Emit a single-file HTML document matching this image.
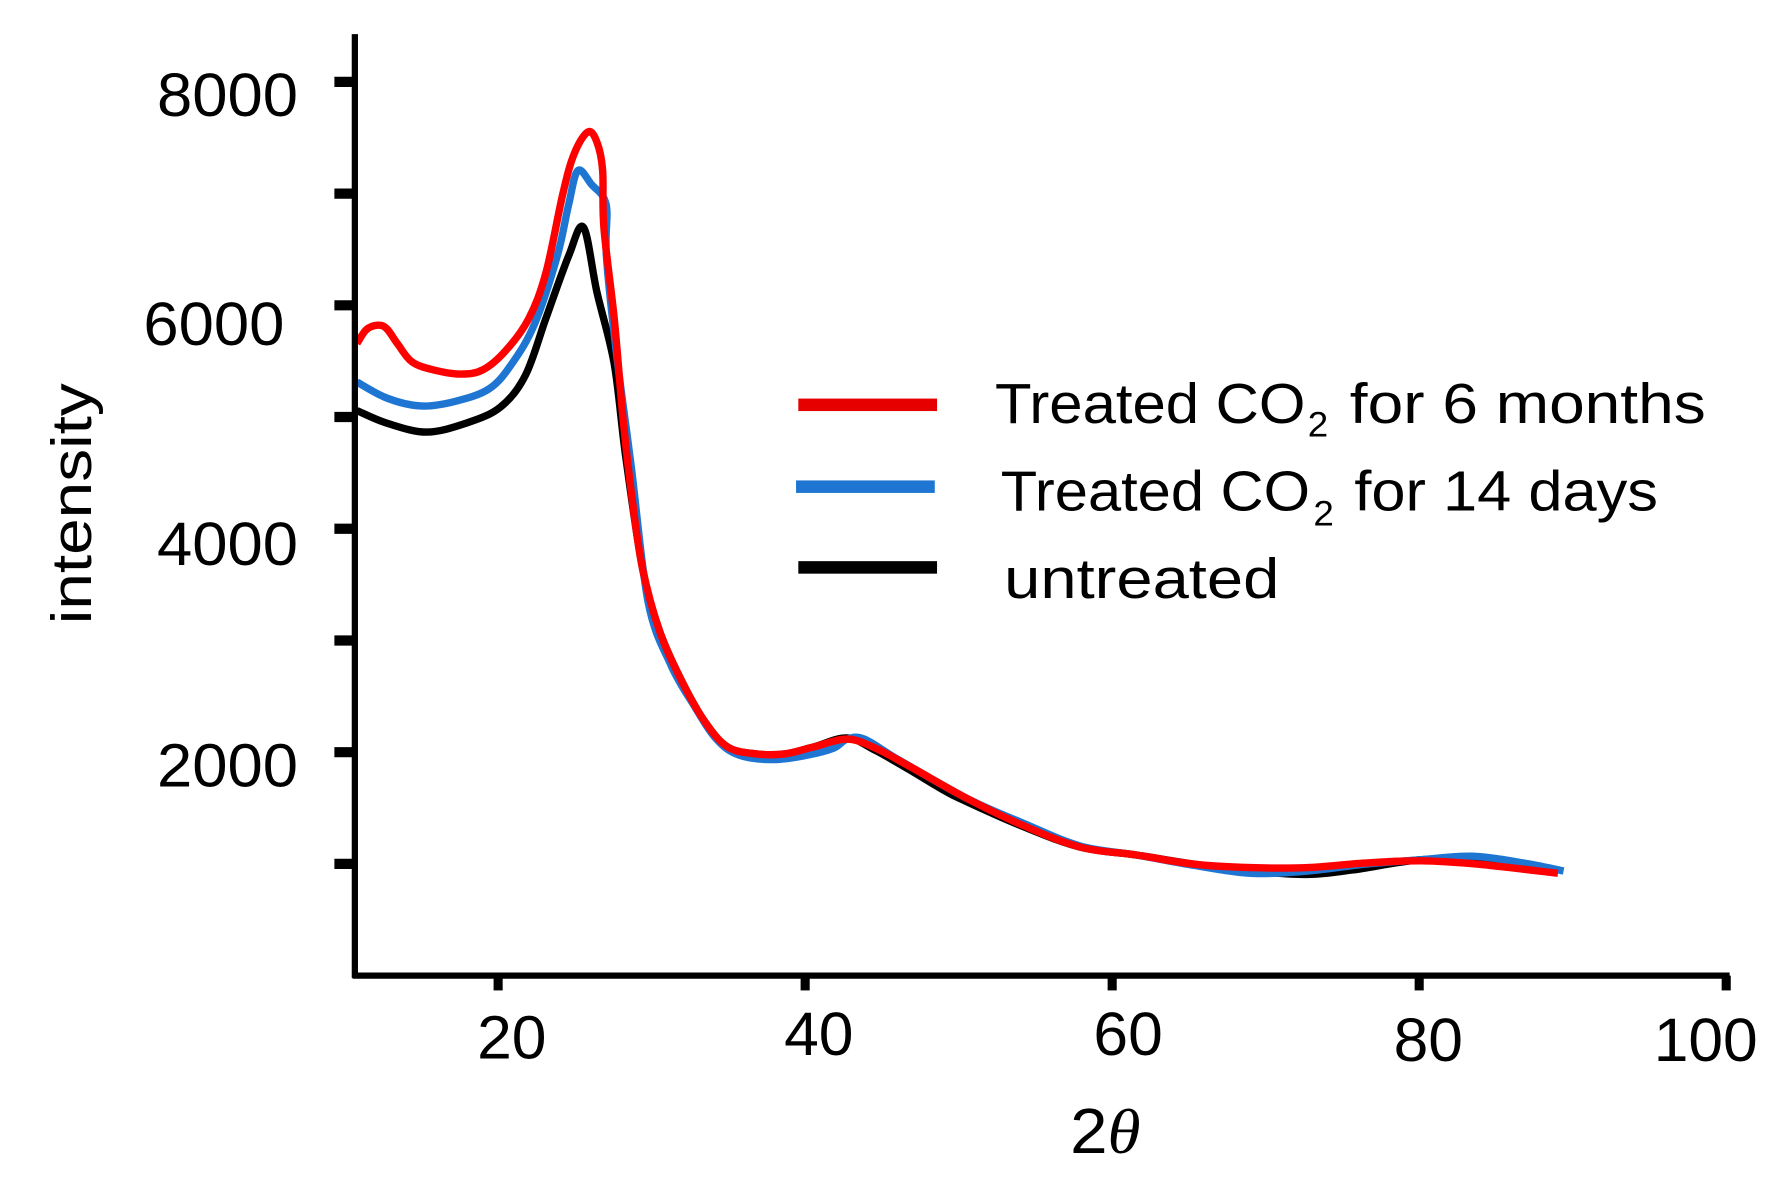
<!DOCTYPE html>
<html>
<head>
<meta charset="utf-8">
<title>Intensity vs 2θ</title>
<style>
html,body{margin:0;padding:0;background:#fff;}
svg{display:block;}
text{font-family:"Liberation Sans",sans-serif;fill:#000;}
</style>
</head>
<body>
<svg id="chart" xmlns="http://www.w3.org/2000/svg" width="1782" height="1186" viewBox="0 0 1567 1043">
  <rect x="0" y="0" width="1567" height="1043" fill="#fff"/>
  <g id="marks"></g>
  <g id="axes"></g>

  <text transform="translate(80,549) rotate(-90)" font-size="50" textLength="212" lengthAdjust="spacingAndGlyphs">intensity</text>
  <text x="941" y="1014" font-size="56" textLength="62" lengthAdjust="spacingAndGlyphs">2<tspan font-family="Liberation Serif" font-style="italic">θ</tspan></text>

  <g>
    <g>
      <rect x="702" y="350.5" width="122" height="11" fill="#e60000"/>
      <text x="875" y="372" font-size="50" textLength="273" lengthAdjust="spacingAndGlyphs">Treated CO</text>
      <text x="1150" y="384" font-size="31" textLength="18" lengthAdjust="spacingAndGlyphs">2</text>
      <text x="1187" y="372" font-size="50" textLength="313" lengthAdjust="spacingAndGlyphs">for 6 months</text>
    </g>
    <g>
      <rect x="700" y="422.5" width="122" height="11" fill="#1e76d2"/>
      <text x="880" y="449" font-size="50" textLength="272" lengthAdjust="spacingAndGlyphs">Treated CO</text>
      <text x="1155" y="462" font-size="31" textLength="18" lengthAdjust="spacingAndGlyphs">2</text>
      <text x="1191" y="449" font-size="50" textLength="267" lengthAdjust="spacingAndGlyphs">for 14 days</text>
    </g>
    <g>
      <rect x="702" y="493.5" width="122" height="11" fill="#000"/>
      <text x="883" y="526" font-size="50" textLength="242" lengthAdjust="spacingAndGlyphs">untreated</text>
    </g>
  </g>
</svg>

<script>
const xTicks = [20, 40, 60, 80, 100];
const yTicks = [1000, 2000, 3000, 4000, 5000, 6000, 7000, 8000];
const yTickLabels = [2000, 4000, 6000, 8000];

const untreatedX = [10.81,12.74,15.33,17.93,20.15,21.78,23.11,24.59,25.56,26.44,27.56,28.30,29.41,30.52,32.0,33.48,34.96,36.81,38.67,40.52,42.74,44.59,46.81,49.04,50.52,54.22,57.93,61.63,65.33,69.04,72.74,75.7,80.15,83.85,89.04];
const untreatedY = [5058,4946,4865,4946,5089,5374,5883,6442,6697,6117,5476,4661,3644,3084,2626,2270,2046,1985,1985,2046,2127,2015,1842,1659,1557,1333,1150,1079,997,936,906,947,1038,1018,936];

const days14X = [10.81,12.74,14.96,17.19,19.41,20.89,22.37,23.85,24.59,25.19,26.07,27.04,27.05,27.70,28.67,29.78,31.26,32.74,34.22,35.70,37.93,40.15,41.85,42.74,43.85,46.07,50.52,54.22,57.93,61.63,65.33,69.04,72.74,76.44,80.15,83.48,86.81,89.41];
const days14Y = [5313,5170,5099,5140,5252,5476,5832,6442,6901,7206,7084,6901,6442,5578,4560,3338,2779,2422,2117,1974,1934,1974,2036,2117,2117,1934,1588,1364,1160,1079,987,916,936,997,1038,1069,1008,936];

const months6X = [10.81,11.41,12.15,12.74,13.48,14.37,15.70,17.56,19.04,20.52,22.0,23.11,24.22,24.96,25.85,26.44,26.81,26.89,27.56,28.15,28.74,29.41,30.52,32.0,33.48,34.96,36.81,38.67,40.52,42.74,44.59,46.81,50.52,54.22,57.93,61.63,65.33,69.04,72.74,76.44,80.15,83.85,89.04];
const months6Y = [5659,5781,5822,5791,5649,5496,5425,5384,5425,5598,5883,6290,7002,7359,7552,7460,7206,6697,5883,4967,4254,3644,3084,2626,2270,2046,1985,1985,2046,2117,2036,1873,1588,1343,1150,1079,997,967,967,1008,1028,997,916];

const SVG_NS = 'http://www.w3.org/2000/svg';
const marks = document.getElementById('marks');
const axes = document.getElementById('axes');

function xScale(v) { return 438 + (v - 20) * 13.5; }
function yScale(v) { return 858 - v * 0.09825; }

const AXIS_LEFT = 312, AXIS_BOTTOM = 858, AXIS_RIGHT = 1521, AXIS_TOP = 30;

function smoothPath(xs, ys) {
  const p = xs.map(function (x, i) { return [xScale(x), yScale(ys[i])]; });
  let d = 'M' + p[0][0].toFixed(1) + ' ' + p[0][1].toFixed(1);
  for (let i = 0; i < p.length - 1; i++) {
    const a = p[Math.max(i - 1, 0)], b = p[i], c = p[i + 1], e = p[Math.min(i + 2, p.length - 1)];
    const c1x = b[0] + (c[0] - a[0]) / 6, c1y = b[1] + (c[1] - a[1]) / 6;
    const c2x = c[0] - (e[0] - b[0]) / 6, c2y = c[1] - (e[1] - b[1]) / 6;
    d += 'C' + c1x.toFixed(1) + ' ' + c1y.toFixed(1) + ' ' + c2x.toFixed(1) + ' ' + c2y.toFixed(1) + ' ' + c[0].toFixed(1) + ' ' + c[1].toFixed(1);
  }
  return d;
}

function make(tag, attrs, parent) {
  const el = document.createElementNS(SVG_NS, tag);
  Object.keys(attrs).forEach(function (k) { el.setAttribute(k, attrs[k]); });
  parent.appendChild(el);
  return el;
}

const untreatedLine = make('path', { d: smoothPath(untreatedX, untreatedY), fill: 'none', stroke: '#000', 'stroke-width': 6.5, 'stroke-linejoin': 'round' }, marks);



const days14Line = make('path', { d: smoothPath(days14X, days14Y), fill: 'none', stroke: '#1e76d2', 'stroke-width': 6.5, 'stroke-linejoin': 'round' }, marks);



const months6Line = make('path', { d: smoothPath(months6X, months6Y), fill: 'none', stroke: '#f00', 'stroke-width': 6.5, 'stroke-linejoin': 'round' }, marks);



const yAxisLine = make('line', { x1: AXIS_LEFT, x2: AXIS_LEFT, y1: AXIS_TOP, y2: AXIS_BOTTOM + 2, stroke: '#000', 'stroke-width': 5.5 }, axes);



const xAxisLine = make('line', { x1: AXIS_LEFT - 2, x2: AXIS_RIGHT, y1: AXIS_BOTTOM, y2: AXIS_BOTTOM, stroke: '#000', 'stroke-width': 5.5 }, axes);



yTicks.forEach(function (v) {
  const t = make('line', { x1: AXIS_LEFT - 18, x2: AXIS_LEFT, y1: yScale(v), y2: yScale(v), stroke: '#000', 'stroke-width': 9 }, axes);
  
  
});

xTicks.forEach(function (v) {
  const t = make('line', { x1: xScale(v), x2: xScale(v), y1: AXIS_BOTTOM, y2: AXIS_BOTTOM + 13, stroke: '#000', 'stroke-width': 8 }, axes);
  
  
});

const yLabelNudge = { 2000: [0, 30], 4000: [0, 32], 6000: [-12, 35], 8000: [0, 30] };
yTickLabels.forEach(function (v) {
  const n = yLabelNudge[v] || [0, 30];
  const t = make('text', { x: 262 + n[0], y: yScale(v) + n[1], 'font-size': 54, 'text-anchor': 'end', textLength: 124, lengthAdjust: 'spacingAndGlyphs' }, axes);
  
  
  t.textContent = String(v);
});

const xLabelNudge = { 20: [12, 73], 40: [12, 70], 60: [14, 70], 80: [8, 75], 100: [-18, 75] };
xTicks.forEach(function (v) {
  const n = xLabelNudge[v] || [0, 72];
  const w = String(v).length * 30.5;
  const t = make('text', { x: xScale(v) + n[0] - w / 2, y: AXIS_BOTTOM + n[1], 'font-size': 54, textLength: w, lengthAdjust: 'spacingAndGlyphs' }, axes);
  
  
  t.textContent = String(v);
});
</script>
</body>
</html>
